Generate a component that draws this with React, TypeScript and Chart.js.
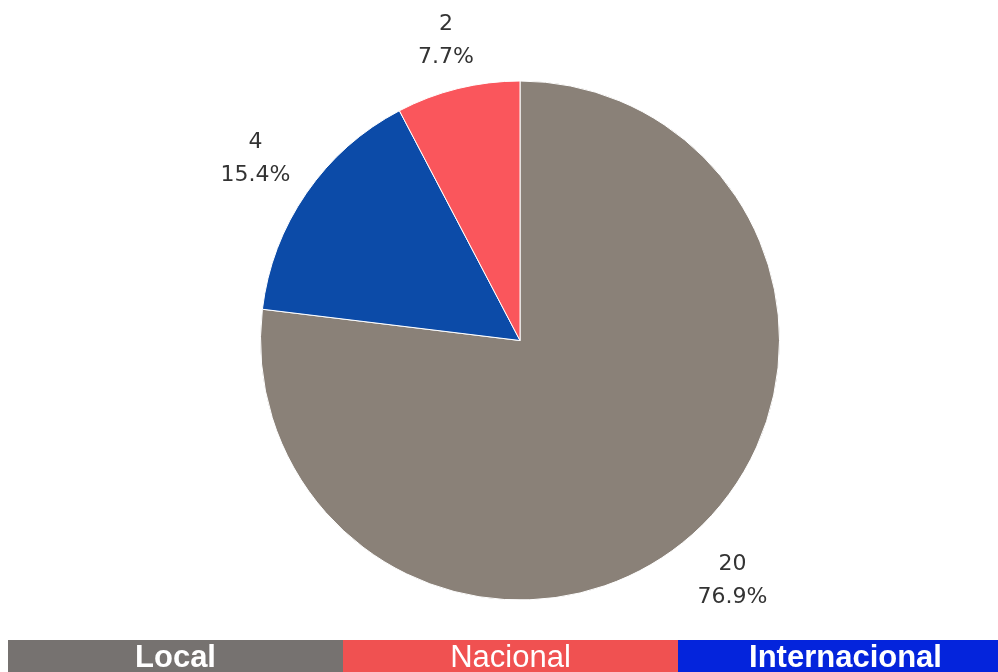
import React, { useEffect, useRef } from "react";
import { Chart, registerables } from "chart.js";

Chart.register(...registerables);

const categories = ["Local", "Internacional", "Nacional"];
const values = [20, 4, 2];
const sliceColors = ["#8a8178", "#0c4ba8", "#fa565c"];

const legendNames = ["Local", "Nacional", "Internacional"];
const legendColors = ["#767270", "#f05151", "#0424dc"];
const legendBold = [true, false, true];

const outsideLabels = {
  id: "outsideLabels",
  afterDatasetsDraw(chart: any) {
    const ctx = chart.ctx;
    const meta = chart.getDatasetMeta(0);
    const data = chart.data.datasets[0].data as number[];
    const total = data.reduce((a, b) => a + b, 0);
    ctx.save();
    ctx.fillStyle = "#333333";
    ctx.font = "22px 'DejaVu Sans', sans-serif";
    ctx.textAlign = "center";
    ctx.textBaseline = "middle";
    meta.data.forEach((arc: any, i: number) => {
      const { x, y, startAngle, endAngle, outerRadius } = arc.getProps(
        ["x", "y", "startAngle", "endAngle", "outerRadius"],
        true
      );
      const mid = (startAngle + endAngle) / 2;
      const pct = ((data[i] / total) * 100).toFixed(1) + "%";
      const w = Math.max(ctx.measureText(String(data[i])).width, ctx.measureText(pct).width);
      const h = 50;
      const support = Math.abs(Math.cos(mid)) * (w / 2) + Math.abs(Math.sin(mid)) * (h / 2);
      const r = outerRadius + 19 + support;
      const lx = x + Math.cos(mid) * r;
      const ly = y + Math.sin(mid) * r;
      ctx.fillText(String(data[i]), lx, ly - 16);
      ctx.fillText(pct, lx, ly + 17);
    });
    ctx.restore();
  },
};

export default function App() {
  const ref = useRef<HTMLCanvasElement | null>(null);
  useEffect(() => {
    if (!ref.current) return;
    const chart = new Chart(ref.current, {
      type: "pie",
      data: {
        labels: categories,
        datasets: [
          {
            data: values,
            backgroundColor: sliceColors,
            borderColor: "#ffffff",
            borderWidth: 1,
          },
        ],
      },
      options: {
        animation: false,
        responsive: false,
        maintainAspectRatio: false,
        layout: { padding: { left: 260, right: 218, top: 80, bottom: 39 } },
        plugins: {
          legend: { display: false },
          tooltip: { enabled: false },
        },
      },
      plugins: [outsideLabels],
    });
    return () => chart.destroy();
  }, []);

  return (
    <div
      style={{
        position: "fixed",
        left: 0,
        top: 0,
        width: 998,
        height: 672,
        overflow: "hidden",
        background: "#fff",
      }}
    >
      <canvas
        ref={ref}
        width={998}
        height={640}
        style={{ position: "absolute", left: 0, top: 0, width: 998, height: 640 }}
      />
      <div
        style={{
          position: "absolute",
          left: 8,
          top: 640,
          width: 1005,
          height: 40,
          display: "flex",
        }}
      >
        {legendNames.map((n, i) => (
          <div
            key={n}
            style={{
              width: 335,
              height: 40,
              background: legendColors[i],
              color: "#fff",
              fontFamily: "'Liberation Sans', Arial, sans-serif",
              fontWeight: legendBold[i] ? 700 : 400,
              fontSize: 31,
              lineHeight: "34px",
              textAlign: "center",
            }}
          >
            {n}
          </div>
        ))}
      </div>
    </div>
  );
}
